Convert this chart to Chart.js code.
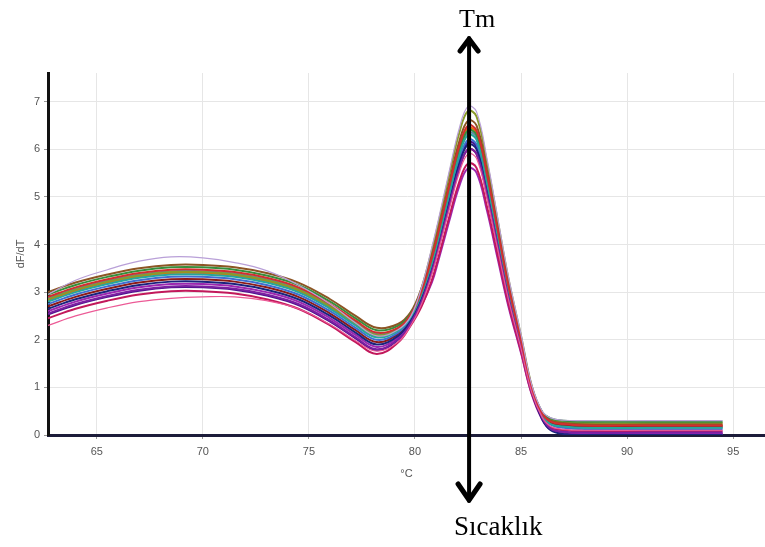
<!DOCTYPE html>
<html>
<head>
<meta charset="utf-8">
<script src="https://cdn.jsdelivr.net/npm/chart.js@4"></script>
<style>
  html, body { margin: 0; padding: 0; background: #fff; }
  #wrap { width: 765px; height: 547px; position: relative; }
</style>
</head>
<body>
<div id="wrap"><canvas id="melt"></canvas></div>
<script>
// temperature points (°C)
const temps = [62.7, 64, 65.5, 67, 68.5, 70, 71.5, 73, 74.5, 76, 77.2, 78.2, 79.2, 79.8, 80.3, 80.8,
  81.1, 81.6, 82.1, 82.5, 82.9, 83.4, 83.9, 84.4, 85, 85.5, 86, 86.4, 87, 88, 91, 94.5];

const xTicks = [65, 70, 75, 80, 85, 90, 95];
const yTicks = [0, 1, 2, 3, 4, 5, 6, 7];
const tmValue = 82.55;

// one array per well
const well1 = [2.90, 3.10, 3.27, 3.40, 3.47, 3.47, 3.42, 3.30, 3.10, 2.75, 2.40, 2.15, 2.25, 2.53, 3.01, 3.72,
  4.24, 5.19, 6.08, 6.50, 6.39, 5.45, 4.30, 3.14, 1.99, 1.00, 0.45, 0.28, 0.23, 0.20, 0.20, 0.20];
const well2 = [2.55, 2.75, 2.92, 3.05, 3.12, 3.12, 3.07, 2.95, 2.75, 2.40, 2.05, 1.80, 2.01, 2.35, 2.79, 3.44,
  3.92, 4.79, 5.61, 6.00, 5.90, 5.03, 3.97, 2.90, 1.84, 0.92, 0.36, 0.13, 0.07, 0.05, 0.05, 0.05];
const well3 = [2.80, 3.00, 3.17, 3.30, 3.37, 3.37, 3.32, 3.20, 3.00, 2.65, 2.30, 2.05, 2.19, 2.48, 2.95, 3.61,
  4.11, 5.03, 5.89, 6.30, 6.20, 5.28, 4.17, 3.05, 1.93, 0.97, 0.41, 0.23, 0.18, 0.15, 0.15, 0.15];
const well4 = [2.65, 2.85, 3.02, 3.15, 3.22, 3.22, 3.17, 3.05, 2.85, 2.50, 2.15, 1.90, 2.08, 2.40, 2.85, 3.49,
  3.99, 4.87, 5.71, 6.10, 6.00, 5.12, 4.03, 2.95, 1.87, 0.93, 0.33, 0.10, 0.02, 0, 0, 0];
const well5 = [2.95, 3.15, 3.32, 3.45, 3.52, 3.52, 3.47, 3.35, 3.15, 2.80, 2.45, 2.20, 2.29, 2.55, 3.01, 3.66,
  4.18, 5.11, 5.99, 6.40, 6.30, 5.37, 4.23, 3.10, 1.96, 0.98, 0.48, 0.35, 0.30, 0.28, 0.28, 0.28];
const well6 = [2.45, 2.65, 2.82, 2.95, 3.02, 3.02, 2.97, 2.85, 2.65, 2.30, 1.95, 1.70, 1.94, 2.30, 2.69, 3.26,
  3.72, 4.55, 5.33, 5.70, 5.61, 4.78, 3.77, 2.76, 1.75, 0.87, 0.35, 0.16, 0.10, 0.08, 0.08, 0.08];
const well7 = [3.00, 3.20, 3.37, 3.50, 3.57, 3.57, 3.52, 3.40, 3.20, 2.85, 2.50, 2.25, 2.33, 2.58, 3.07, 3.78,
  4.31, 5.27, 6.18, 6.60, 6.50, 5.54, 4.37, 3.20, 2.02, 1.01, 0.46, 0.30, 0.25, 0.22, 0.22, 0.22];
const well8 = [2.75, 2.95, 3.12, 3.25, 3.32, 3.32, 3.27, 3.15, 2.95, 2.60, 2.25, 2.00, 2.15, 2.45, 2.90, 3.55,
  4.05, 4.95, 5.80, 6.20, 6.10, 5.20, 4.10, 3.00, 1.90, 0.95, 0.40, 0.22, 0.15, 0.12, 0.12, 0.12];
const well9 = [2.30, 2.50, 2.67, 2.80, 2.87, 2.90, 2.90, 2.82, 2.65, 2.32, 1.98, 1.76, 1.95, 2.30, 2.74, 3.38,
  3.86, 4.71, 5.52, 5.90, 5.81, 4.95, 3.90, 2.86, 1.81, 0.90, 0.37, 0.18, 0.12, 0.10, 0.10, 0.10];
const well10 = [2.85, 3.05, 3.22, 3.35, 3.42, 3.42, 3.37, 3.25, 3.05, 2.70, 2.35, 2.10, 2.22, 2.50, 3.07, 3.89,
  4.44, 5.43, 6.36, 6.80, 6.69, 5.70, 4.50, 3.29, 2.08, 1.04, 0.47, 0.32, 0.27, 0.25, 0.25, 0.25];
const well11 = [2.70, 2.90, 3.07, 3.20, 3.27, 3.27, 3.22, 3.10, 2.90, 2.55, 2.20, 1.95, 2.12, 2.43, 2.84, 3.44,
  3.92, 4.79, 5.61, 6.00, 5.90, 5.03, 3.97, 2.90, 1.84, 0.92, 0.40, 0.25, 0.20, 0.18, 0.18, 0.18];
const well12 = [2.95, 3.25, 3.47, 3.65, 3.74, 3.72, 3.62, 3.45, 3.15, 2.75, 2.35, 2.08, 2.21, 2.49, 3.09, 3.95,
  4.51, 5.51, 6.46, 6.90, 6.79, 5.79, 4.56, 3.34, 2.11, 1.06, 0.50, 0.36, 0.31, 0.30, 0.30, 0.30];
const well13 = [2.87, 3.07, 3.24, 3.37, 3.44, 3.44, 3.39, 3.27, 3.07, 2.72, 2.37, 2.12, 2.23, 2.51, 2.97, 3.64,
  4.15, 5.07, 5.94, 6.35, 6.25, 5.32, 4.20, 3.07, 1.95, 0.97, 0.42, 0.24, 0.19, 0.16, 0.16, 0.16];
const well14 = [2.60, 2.80, 2.97, 3.10, 3.17, 3.17, 3.12, 3.00, 2.80, 2.45, 2.10, 1.85, 2.05, 2.38, 2.72, 3.21,
  3.66, 4.47, 5.24, 5.60, 5.51, 4.70, 3.70, 2.71, 1.72, 0.86, 0.32, 0.11, 0.04, 0.02, 0.02, 0.02];
const well15 = [2.83, 3.03, 3.20, 3.33, 3.40, 3.40, 3.35, 3.23, 3.03, 2.68, 2.33, 2.08, 2.21, 2.49, 2.98, 3.69,
  4.21, 5.15, 6.03, 6.45, 6.34, 5.41, 4.26, 3.12, 1.98, 0.99, 0.44, 0.27, 0.22, 0.20, 0.20, 0.20];
const well16 = [2.53, 2.73, 2.90, 3.03, 3.10, 3.10, 3.05, 2.93, 2.73, 2.38, 2.03, 1.78, 2.00, 2.34, 2.82, 3.52,
  4.02, 4.91, 5.75, 6.15, 6.05, 5.16, 4.07, 2.98, 1.88, 0.94, 0.34, 0.12, 0.05, 0.03, 0.03, 0.03];

const wells = [well12, well9, well1, well2, well3, well4, well5, well6, well7, well8, well10, well11, well13, well14, well15, well16];
const colors = ['#b9a0d8', '#ec5a96', '#d32f2f', '#7b1fa2', '#26a69a', '#1a237e', '#388e3c', '#c2185b',
  '#8d5524', '#3f6fd0', '#8a9a2a', '#8b1a1a', '#5c8aa8', '#9c27b0', '#ef6c00', '#4a148c'];

const datasets = wells.map((w, i) => ({
  data: w.map((v, j) => ({ x: temps[j], y: v })),
  borderColor: colors[i],
  borderWidth: i < 2 ? 1.2 : 2,
  pointRadius: 0,
  fill: false,
  tension: 0.4
}));

// Tm arrow and the two serif labels
const arrowPlugin = {
  id: 'tmArrow',
  afterDraw(chart) {
    const ctx = chart.ctx;
    const x = chart.scales.x.getPixelForValue(tmValue);
    const top = 36, bottom = 503;
    ctx.save();
    ctx.strokeStyle = '#000';
    ctx.lineWidth = 4;
    ctx.lineCap = 'round';
    ctx.lineJoin = 'round';
    ctx.beginPath();
    ctx.moveTo(x, top + 2);
    ctx.lineTo(x, bottom - 2);
    ctx.stroke();
    ctx.lineWidth = 5;
    ctx.beginPath();
    ctx.moveTo(x - 9, top + 15);
    ctx.lineTo(x, top + 3);
    ctx.lineTo(x + 9, top + 15);
    ctx.stroke();
    ctx.beginPath();
    ctx.moveTo(x - 11, bottom - 19);
    ctx.lineTo(x, bottom - 3);
    ctx.lineTo(x + 11, bottom - 19);
    ctx.stroke();
    ctx.fillStyle = '#000';
    ctx.font = '26px "Liberation Serif", "Times New Roman", serif';
    ctx.textBaseline = 'alphabetic';
    ctx.textAlign = 'left';
    ctx.fillText('Tm', x - 10, 27);
    ctx.font = '27px "Liberation Serif", "Times New Roman", serif';
    ctx.fillText('Sıcaklık', x - 15, 535);
    ctx.restore();
  }
};

new Chart(document.getElementById('melt'), {
  type: 'line',
  data: { datasets },
  plugins: [arrowPlugin],
  options: {
    responsive: true,
    maintainAspectRatio: false,
    animation: false,
    layout: { padding: { top: 73, right: 0, bottom: 62, left: 0 } },
    plugins: { legend: { display: false }, tooltip: { enabled: false } },
    scales: {
      x: {
        type: 'linear',
        min: 62.7,
        max: 96.5,
        afterBuildTicks: s => { s.ticks = xTicks.map(v => ({ value: v })); },
        afterFit: s => { s.height = 50; },
        grid: { color: '#e6e6e6', tickLength: 4, tickColor: '#999' },
        border: { color: '#1c1c3a', width: 3 },
        ticks: { color: '#555', font: { size: 11, family: 'Arial, "Liberation Sans"' }, padding: 6 },
        title: { display: true, text: '°C', color: '#555', font: { size: 11, family: 'Arial, "Liberation Sans"' }, padding: { top: 2, bottom: 4 } }
      },
      y: {
        min: 0,
        max: 7.6,
        afterBuildTicks: s => { s.ticks = yTicks.map(v => ({ value: v })); },
        afterFit: s => { s.width = 48; },
        grid: { color: '#e6e6e6', tickLength: 4, tickColor: '#999' },
        border: { color: '#111', width: 3 },
        ticks: { color: '#555', font: { size: 11, family: 'Arial, "Liberation Sans"' }, padding: 4 },
        title: { display: true, text: 'dF/dT', color: '#555', font: { size: 11, family: 'Arial, "Liberation Sans"' }, padding: { top: 14, bottom: 0 } }
      }
    }
  }
});
</script>
</body>
</html>
